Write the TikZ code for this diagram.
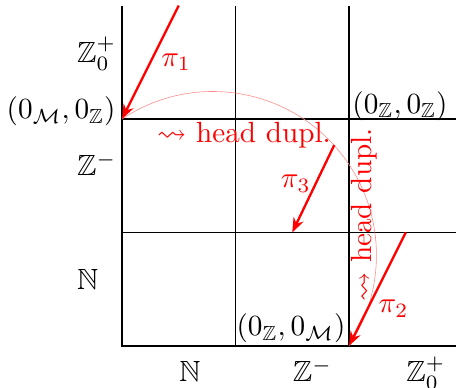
\documentclass[tikz,border=0pt]{standalone}
\usepackage{amssymb}
\usetikzlibrary{arrows.meta}

\tikzset{
  proj/.style={red, thick, -{Stealth[length=5pt]}},
  duparc/.style={red!45, very thin},
  axlbl/.style={anchor=base west, inner sep=0pt},
}

\begin{document}
\begin{tikzpicture}[x=1.366cm, y=1.366cm]

    \clip (-1.075,-0.37) rectangle (2.943,3.0485);

    % Points
    \coordinate (O) at (0,0);
    \coordinate (MZ) at (0,2);
    \coordinate (ZZ) at (2,2);
    \coordinate (ZM) at (2,0);

    % Grid
    \draw (1,0) -- (1,3) (2,0) -- (2,3);
    \draw (0,1) -- (3,1) (0,2) -- (3,2);

    % Axes
    \draw[thick] (0,3) -- (O) -- (3,0);

    % Axis labels
    \node[axlbl] (yN) at (-0.4,0.5) {$\mathbb{N}$};
    \node[axlbl] (yZm) at (-0.4,1.5) {$\mathbb{Z}^-$};
    \node[axlbl] (yZp) at (-0.4,2.5) {$\mathbb{Z}_0^+$};
    \node[axlbl] (xN) at (0.5,-0.317) {$\mathbb{N}$};
    \node[axlbl] (xZm) at (1.5,-0.317) {$\mathbb{Z}^-$};
    \node[axlbl] (xZp) at (2.5,-0.317) {$\mathbb{Z}_0^+$};

    % Corner labels
    \node[anchor=base east, inner sep=2pt] (mzlbl) at (MZ) {$(0_{\mathcal{M}},0_{\mathbb{Z}})$};
    \node[anchor=base west, inner sep=1pt, yshift=2pt] (zzlbl) at (ZZ) {$(0_{\mathbb{Z}},0_{\mathbb{Z}})$};
    \node[anchor=base east, inner sep=1pt, yshift=3.5pt] (zmlbl) at (ZM) {$(0_{\mathbb{Z}},0_{\mathcal{M}})$};

    % Head duplication
    \draw[duparc] (MZ) arc[start angle=123.69, end angle=-33.69, radius=1.4422];
    \node[red, anchor=base] (hd1) at (1.075,1.79) {$\rightsquigarrow$ head dupl.};
    \node[red, anchor=base, rotate=90] (hd2) at (2.2,1.154) {$\rightsquigarrow$ head dupl.};

    % Projections
    \coordinate (p1s) at (0.5,3);
    \coordinate (p2s) at (2.5,1);
    \coordinate (p3s) at (1.87,1.77);
    \coordinate (p3e) at (1.5,1);
    \draw[proj] (p1s) -- (MZ) node[midway, right] (pi1) {$\pi_1$};
    \draw[proj] (p2s) -- (ZM) node[pos=0.67, right] (pi2) {$\pi_2$};
    \draw[proj] (p3s) -- (p3e) node[pos=0.44, left, xshift=2pt] (pi3) {$\pi_3$};

\end{tikzpicture}
\end{document}
